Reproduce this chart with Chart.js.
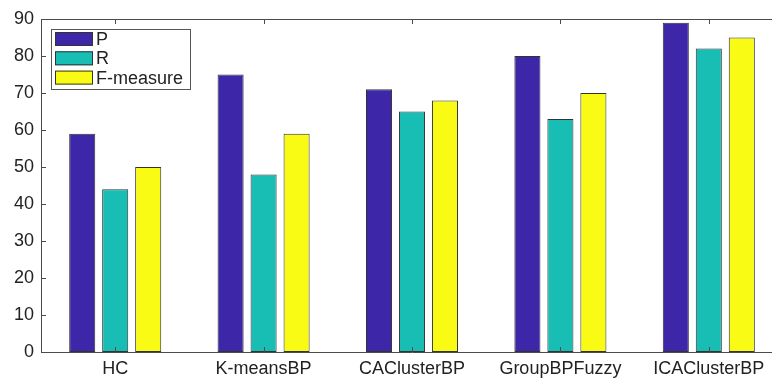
<!DOCTYPE html>
<html>
<head>
<meta charset="utf-8">
<script src="https://cdn.jsdelivr.net/npm/chart.js@4/dist/chart.umd.min.js"></script>
<style>
  html, body { margin: 0; padding: 0; overflow: hidden; background: #fff; }
  canvas { display: block; }
</style>
</head>
<body>
<canvas id="bars" width="800" height="379"></canvas>
<script>
// data
const methods = ['HC', 'K-meansBP', 'CAClusterBP', 'GroupBPFuzzy', 'ICAClusterBP'];
const precision = [59, 75, 71, 80, 89];
const recall = [44, 48, 65, 63, 82];
const fMeasure = [50, 59, 68, 70, 85];
const seriesNames = ['P', 'R', 'F-measure'];
const yTicks = [0, 10, 20, 30, 40, 50, 60, 70, 80, 90];

const colors = ['#3d26a8', '#18beb4', '#f9fb15'];
const axisColor = '#4a4a4a';
const fontFamily = "'Liberation Sans', Arial, sans-serif";

// MATLAB style box: top line plus inward tick marks
const axisBox = {
    id: 'axisBox',
    afterDraw(chart) {
        const { ctx, chartArea: a, scales } = chart;
        ctx.save();
        ctx.strokeStyle = axisColor;
        ctx.lineWidth = 1;
        ctx.beginPath();
        ctx.moveTo(a.left, a.top + 0.5);
        ctx.lineTo(a.right + 20, a.top + 0.5);
        yTicks.forEach(v => {
            const y = Math.round(scales.y.getPixelForValue(v)) + 0.5;
            ctx.moveTo(a.left, y);
            ctx.lineTo(a.left + 5, y);
        });
        methods.forEach((m, i) => {
            const x = Math.round(scales.x.getPixelForValue(i)) + 0.5;
            ctx.moveTo(x, a.bottom);
            ctx.lineTo(x, a.bottom - 5);
            ctx.moveTo(x, a.top);
            ctx.lineTo(x, a.top + 5);
        });
        ctx.stroke();

        // legend box inside the axes, top-left
        const lx = 51, ly = 29, lw = 139, lh = 60;
        ctx.fillStyle = '#fff';
        ctx.fillRect(lx, ly, lw, lh);
        ctx.strokeStyle = '#555';
        ctx.strokeRect(lx + 0.5, ly + 0.5, lw, lh);
        ctx.font = '18px ' + fontFamily;
        ctx.textBaseline = 'middle';
        seriesNames.forEach((name, i) => {
            const ry = ly + 3 + i * 19.3;
            ctx.fillStyle = colors[i];
            ctx.fillRect(lx + 4, ry, 38, 14);
            ctx.strokeStyle = '#333';
            ctx.strokeRect(lx + 4.5, ry + 0.5, 37, 13);
            ctx.fillStyle = '#222';
            ctx.fillText(name, lx + 45, ry + 8);
        });
        ctx.restore();
    }
};

new Chart(document.getElementById('bars'), {
    type: 'bar',
    data: {
        labels: methods,
        datasets: [
            { label: seriesNames[0], data: precision, backgroundColor: colors[0] },
            { label: seriesNames[1], data: recall, backgroundColor: colors[1] },
            { label: seriesNames[2], data: fMeasure, backgroundColor: colors[2] }
        ].map(d => Object.assign(d, {
            borderColor: '#333', borderWidth: 1, borderSkipped: false,
            categoryPercentage: 0.667, barPercentage: 0.79
        }))
    },
    options: {
        responsive: false,
        animation: false,
        layout: { padding: { top: 19, right: 17, left: 0, bottom: 0 } },
        plugins: { legend: { display: false }, tooltip: { enabled: false } },
        scales: {
            x: {
                grid: { display: false, drawTicks: false },
                border: { display: true, color: axisColor, width: 1 },
                ticks: { color: '#222', font: { family: fontFamily, size: 18 }, padding: 6, maxRotation: 0, autoSkip: false },
                afterFit: s => { s.height = 27; }
            },
            y: {
                min: 0, max: 90,
                grid: { display: false, drawTicks: false },
                border: { display: true, color: axisColor, width: 1 },
                afterBuildTicks: s => { s.ticks = yTicks.map(v => ({ value: v })); },
                ticks: { color: '#222', font: { family: fontFamily, size: 18 }, padding: 7 },
                afterFit: s => { s.width = 41; }
            }
        }
    },
    plugins: [axisBox]
});
</script>
</body>
</html>
